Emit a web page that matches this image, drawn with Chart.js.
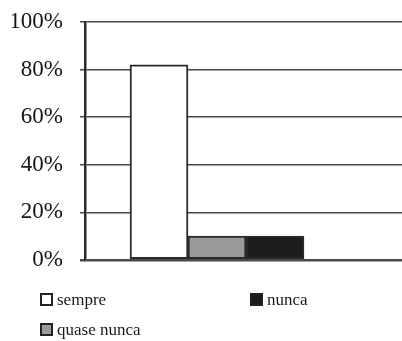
<!DOCTYPE html>
<html>
<head>
<meta charset="utf-8">
<script src="https://cdn.jsdelivr.net/npm/chart.js@4"></script>
<style>
  html, body { margin: 0; padding: 0; background: #ffffff; }
  #wrap { position: relative; width: 402px; height: 341px; overflow: hidden; }
  canvas { position: absolute; left: 0; top: 0; }
  .leg { position: absolute; font-family: "Liberation Serif", "DejaVu Serif", serif; font-size: 17px; color: #1a1a1a; line-height: 17px; white-space: nowrap; }
  .leg i { display: inline-block; width: 9px; height: 9px; border: 2px solid #222; margin-right: 4px; vertical-align: -1px; }
</style>
</head>
<body>
<div id="wrap">
  <canvas id="c" width="402" height="341"></canvas>
  <div id="legend"></div>
</div>
<script>
// Answer categories and their shares (%)
const categories = ["sempre", "quase nunca", "nunca"];
const shares = [82, 10, 10];
const yTicks = [0, 20, 40, 60, 80, 100];

const fills = ["#ffffff", "#9a9a9a", "#1c1c1c"];
const ink = "#2a2a2a";

const ctx = document.getElementById("c").getContext("2d");
new Chart(ctx, {
  type: "bar",
  data: {
    datasets: [{
      data: shares.map((v, i) => ({ x: i, y: v })),
      backgroundColor: fills,
      borderColor: ink,
      borderWidth: 2,
      borderSkipped: false,
      barThickness: 58
    }]
  },
  options: {
    responsive: false,
    animation: false,
    layout: { padding: { left: 12, right: 0, top: 22, bottom: 81 } },
    plugins: { legend: { display: false }, tooltip: { enabled: false } },
    scales: {
      x: {
        type: "linear",
        offset: false,
        min: -1.276,
        max: 4.19,
        display: false
      },
      y: {
        min: 0,
        max: 100,
        afterBuildTicks: (axis) => { axis.ticks = yTicks.map(v => ({ value: v })); },
        afterFit: (axis) => { axis.width = 73; axis.paddingTop = 0; axis.paddingBottom = 0; },
        ticks: {
          callback: (v) => v + "%",
          color: "#151515",
          padding: 17,
          font: { family: "'Liberation Serif', serif", size: 23 }
        },
        grid: {
          color: "#4a4a4a",
          lineWidth: (c) => (c.tick && c.tick.value === 0 ? 2.5 : 1.5),
          tickLength: 5
        },
        border: { color: "#2a2a2a", width: 2.5 }
      }
    }
  }
});

// Two-column legend under the plot
const legendSpots = [
  { left: 40, top: 291 },
  { left: 40, top: 321 },
  { left: 250, top: 291 }
];
const legendEl = document.getElementById("legend");
categories.forEach((name, i) => {
  const d = document.createElement("div");
  d.className = "leg";
  d.style.left = legendSpots[i].left + "px";
  d.style.top = legendSpots[i].top + "px";
  const sw = document.createElement("i");
  sw.style.background = fills[i];
  d.appendChild(sw);
  d.appendChild(document.createTextNode(name));
  legendEl.appendChild(d);
});
</script>
</body>
</html>
